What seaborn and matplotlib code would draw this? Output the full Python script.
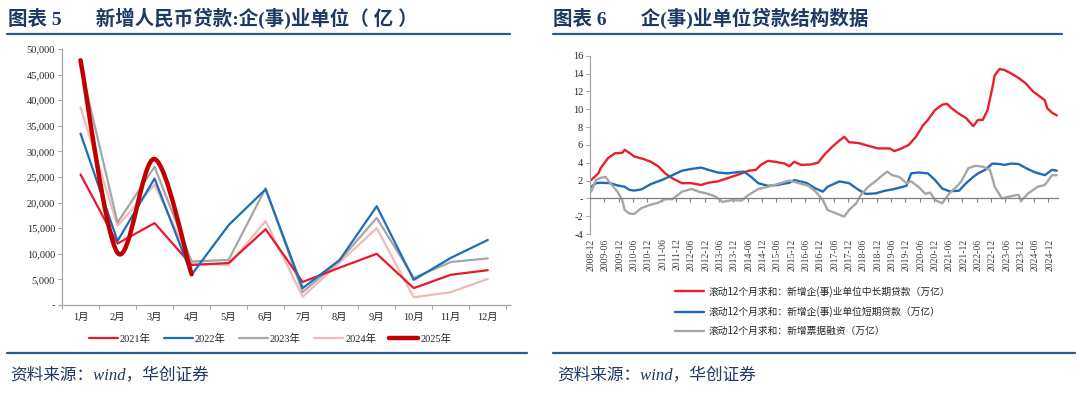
import numpy as np
import pandas as pd
import matplotlib
matplotlib.use("Agg")
import matplotlib.pyplot as plt
import seaborn as sns
from matplotlib.path import Path
from matplotlib.patches import PathPatch
from matplotlib.lines import Line2D
from matplotlib.ticker import FuncFormatter, FixedLocator

# ---------------- data: left chart (亿元) ----------------
months = ["1月", "2月", "3月", "4月", "5月", "6月", "7月", "8月", "9月", "10月", "11月", "12月"]
loans_2021 = [25500, 12000, 16000, 7800, 8200, 14800, 4500, 7300, 10000, 3300, 5900, 6800]
loans_2022 = [33500, 12500, 24700, 5900, 15600, 22600, 3300, 8800, 19300, 4900, 9200, 12700]
loans_2023 = [46800, 16100, 27000, 8500, 8800, 22800, 2500, 8700, 17000, 5300, 8400, 9100]
loans_2024 = [38600, 15500, 23500, 8200, 7800, 16400, 1600, 8300, 15000, 1500, 2500, 5100]
loans_2025 = [47800, 10200, 28500, 6000]
years = ["2021年", "2022年", "2023年", "2024年", "2025年"]

# ---------------- data: right chart (万亿), month index 0 = 2008-12 ----------------
xlabels_start = "2008-12"
red_m = [0, 3, 4, 7, 10, 13, 14, 16, 18, 22, 25, 28, 31, 34, 38, 42, 46, 49, 53, 57, 62, 66, 69, 71, 74,
         77, 81, 83, 85, 88, 92, 95, 98, 101, 104, 106, 108, 112, 116, 120, 125, 127, 130, 133, 136, 139,
         141, 144, 147, 149, 151, 154, 157, 159, 160, 162, 164, 166, 168, 169, 171, 173, 176, 179, 182,
         185, 188, 190, 191, 193, 195]
red_v = [2.06, 2.8, 3.4, 4.5, 5.06, 5.1, 5.45, 5.1, 4.7, 4.4, 4.1, 3.6, 2.8, 2.25, 1.7, 1.7, 1.5, 1.75, 1.9,
         2.25, 2.7, 3.1, 3.2, 3.75, 4.2, 4.1, 3.9, 3.6, 4.1, 3.75, 3.8, 4.0, 5.0, 5.8, 6.5, 6.9, 6.3, 6.2,
         5.9, 5.6, 5.6, 5.3, 5.6, 6.0, 6.9, 8.2, 8.8, 9.9, 10.5, 10.6, 10.1, 9.5, 9.0, 8.4, 8.1, 8.8, 8.8,
         9.9, 12.4, 13.8, 14.5, 14.4, 14.0, 13.5, 12.9, 12.0, 11.4, 11.0, 10.1, 9.6, 9.3]
blue_m = [0, 2, 4, 8, 11, 14, 16, 18, 21, 25, 30, 34, 38, 42, 46, 49, 53, 57, 60, 64, 67, 70, 74, 78, 83,
          85, 90, 94, 97, 99, 104, 108, 112, 115, 119, 123, 127, 132, 133, 134, 137, 141, 144, 147, 150,
          154, 157, 160, 162, 165, 168, 171, 173, 176, 179, 182, 186, 190, 193, 195]
blue_v = [1.3, 1.7, 1.75, 1.7, 1.45, 1.3, 0.95, 0.87, 1.0, 1.6, 2.1, 2.6, 3.1, 3.3, 3.45, 3.2, 2.9, 2.8,
          2.9, 3.0, 2.4, 1.7, 1.4, 1.5, 1.75, 2.05, 1.75, 1.1, 0.75, 1.3, 1.9, 1.7, 0.95, 0.5, 0.55, 0.85,
          1.05, 1.4, 2.1, 2.8, 2.9, 2.8, 2.05, 1.1, 0.8, 0.85, 1.7, 2.4, 2.8, 3.2, 3.9, 3.85, 3.75, 3.9,
          3.85, 3.4, 2.9, 2.6, 3.2, 3.1]
gray_m = [0, 2, 4, 6, 8, 11, 13, 14, 16, 18, 21, 25, 28, 31, 34, 38, 42, 45, 49, 52, 55, 59, 63, 66, 70,
          74, 78, 83, 87, 91, 94, 97, 99, 104, 106, 108, 111, 113, 116, 119, 122, 124, 126, 129, 132, 134,
          137, 140, 142, 144, 147, 150, 153, 155, 158, 161, 164, 167, 169, 172, 175, 179, 180, 183, 187,
          190, 193, 195]
gray_v = [0.75, 2.05, 2.3, 2.4, 1.7, 0.75, -0.2, -1.3, -1.7, -1.75, -1.1, -0.7, -0.5, -0.1, -0.1, 0.75,
          1.05, 0.75, 0.5, 0.2, -0.4, -0.2, -0.25, 0.4, 1.05, 1.3, 1.6, 2.0, 1.7, 1.4, 0.75, -0.2, -1.3,
          -1.85, -2.05, -1.3, -0.55, 0.4, 1.3, 1.9, 2.6, 3.0, 2.6, 2.4, 1.7, 1.9, 1.3, 0.5, 0.65, -0.2,
          -0.55, 0.55, 1.3, 1.9, 3.4, 3.65, 3.55, 3.2, 1.3, 0.0, 0.2, 0.4, -0.3, 0.55, 1.3, 1.5, 2.6, 2.6]
right_labels = ["滚动12个月求和：新增企(事)业单位中长期贷款（万亿）",
                "滚动12个月求和：新增企(事)业单位短期贷款（万亿）",
                "滚动12个月求和：新增票据融资（万亿）"]

# ---------------- style ----------------
sns.set_style("white")
SERIF = ["Liberation Serif", "Noto Sans CJK SC", "DejaVu Sans"]
SANS = ["Noto Sans CJK SC", "DejaVu Sans"]
plt.rcParams["font.family"] = SERIF
plt.rcParams["axes.unicode_minus"] = False

NAVY = "#1F3864"
RULE = "#2E5A8C"
AXC = "#A6A6A6"
TXT = "#262626"

c2021, c2022, c2023, c2024, c2025 = "#E8192C", "#1F6DB5", "#A6A6A6", "#F2B8BA", "#C00000"
cr, cb, cg = "#E8202A", "#1F6CB5", "#A6A6A6"

fig = plt.figure(figsize=(10.8, 3.97), dpi=100)

# ---------------- left chart ----------------
ax1 = fig.add_axes([62 / 1080, 1 - 305 / 397, 448 / 1080, 256 / 397])
xpos = np.arange(1, 13)
df = pd.DataFrame({
    "x": np.concatenate([xpos] * 4),
    "v": loans_2021 + loans_2022 + loans_2023 + loans_2024,
    "year": np.repeat(years[:4], 12),
})
pal = {years[0]: c2021, years[1]: c2022, years[2]: c2023, years[3]: c2024}
sns.lineplot(data=df, x="x", y="v", hue="year", palette=pal, hue_order=[years[3], years[2], years[0], years[1]],
             linewidth=1.6, legend=False, ax=ax1)

# 2025: smoothed line (Excel-style smoothing via Catmull-Rom Bezier through the data points)
pts = np.column_stack([xpos[:len(loans_2025)], loans_2025]).astype(float)
verts = [tuple(pts[0])]
codes = [Path.MOVETO]
n = len(pts)
for i in range(n - 1):
    p0 = pts[i - 1] if i > 0 else pts[i]
    p1, p2 = pts[i], pts[i + 1]
    p3 = pts[i + 2] if i + 2 < n else pts[i + 1]
    c1 = p1 + (p2 - p0) / 6.0
    c2 = p2 - (p3 - p1) / 6.0
    verts += [tuple(c1), tuple(c2), tuple(p2)]
    codes += [Path.CURVE4] * 3
ax1.add_patch(PathPatch(Path(verts, codes), fill=False, edgecolor=c2025, linewidth=3.2,
                        capstyle="round", joinstyle="round", zorder=5))

ax1.set_xlim(0.5, 12.6)
ax1.set_ylim(0, 50000)
ax1.yaxis.set_major_locator(FixedLocator(np.arange(0, 50001, 5000)))
ax1.yaxis.set_major_formatter(FuncFormatter(lambda v, p: "-" if v == 0 else f"{int(v):,}"))
ax1.set_xticks(xpos)
ax1.set_xticklabels(months)
ax1.xaxis.set_minor_locator(FixedLocator(np.arange(0.5, 13, 1.0)))
ax1.tick_params(axis="x", which="major", length=0, pad=6, labelsize=7.5, labelcolor=TXT)
ax1.tick_params(axis="x", which="minor", length=3, color=AXC, width=0.8, direction="out")
ax1.tick_params(axis="y", which="major", length=3, color=AXC, width=0.8, direction="out",
                labelsize=7.5, labelcolor=TXT, pad=2)
ax1.xaxis.set_tick_params(bottom=True, which="both")
ax1.yaxis.set_tick_params(left=True)
for s in ["top", "right"]:
    ax1.spines[s].set_visible(False)
for s in ["left", "bottom"]:
    ax1.spines[s].set_color(AXC)
    ax1.spines[s].set_linewidth(0.9)
ax1.set_xlabel("")
ax1.set_ylabel("")

handles = [Line2D([], [], color=c, lw=w) for c, w in
           [(c2021, 1.6), (c2022, 1.6), (c2023, 1.6), (c2024, 1.6), (c2025, 3.2)]]
fig.legend(handles, years, loc="center", bbox_to_anchor=(270 / 1080, 1 - 339 / 397), ncol=5,
           frameon=False, fontsize=7.5, handlelength=2.8, handletextpad=0.2, columnspacing=1.25,
           borderpad=0, borderaxespad=0, labelcolor=TXT)

# ---------------- right chart ----------------
ax2 = fig.add_axes([590 / 1080, 1 - 234 / 397, 468 / 1080, 178.3 / 397])
sns.lineplot(x=red_m, y=red_v, color=cr, linewidth=1.7, ax=ax2)
sns.lineplot(x=blue_m, y=blue_v, color=cb, linewidth=1.7, ax=ax2)
sns.lineplot(x=gray_m, y=gray_v, color=cg, linewidth=1.7, ax=ax2)

ax2.spines["bottom"].set_position(("data", 0))
ax2.set_xlim(-0.5, 195.5)
ax2.set_ylim(-4, 16)
ax2.yaxis.set_major_locator(FixedLocator(np.arange(-4, 17, 2)))
ax2.yaxis.set_major_formatter(FuncFormatter(lambda v, p: "-" if v == 0 else f"{int(v)}"))
start = pd.Period(xlabels_start, freq="M")
tick_m = np.arange(0, 193, 6)
ax2.set_xticks(tick_m)
ax2.set_xticklabels([(start + int(m)).strftime("%Y-%m") for m in tick_m], rotation=90)
ax2.xaxis.set_minor_locator(FixedLocator(np.arange(-0.5, 196, 6)))
ax2.tick_params(axis="x", which="major", length=0, pad=29, labelsize=7, labelcolor="#404040",
                labelrotation=90)
ax2.tick_params(axis="x", which="minor", length=3, color="#808080", width=0.8, direction="out")
ax2.tick_params(axis="y", which="major", length=3, color=AXC, width=0.8, direction="out",
                labelsize=7.5, labelcolor=TXT, pad=2)
ax2.xaxis.set_tick_params(bottom=True, which="both")
ax2.yaxis.set_tick_params(left=True)
for s in ["top", "right"]:
    ax2.spines[s].set_visible(False)
ax2.spines["left"].set_color(AXC)
ax2.spines["bottom"].set_color("#808080")
ax2.spines["left"].set_linewidth(0.9)
ax2.spines["bottom"].set_linewidth(0.9)
ax2.set_xlabel("")
ax2.set_ylabel("")

rh = [Line2D([], [], color=c, lw=1.7) for c in (cr, cb, cg)]
fig.legend(rh, right_labels, loc="upper left", bbox_to_anchor=(675 / 1080, 1 - 286 / 397),
           ncol=1, frameon=False, handlelength=3.0, handletextpad=0.5,
           labelspacing=0.95, borderpad=0, borderaxespad=0, labelcolor=TXT,
           prop={"family": SANS, "size": 7})

# ---------------- titles, rules, footers ----------------
fig.text(8 / 1080, 1 - 18 / 397, "图表 5       新增人民币贷款:企(事)业单位（ 亿 ）", fontsize=14, fontweight="bold",
         color=NAVY, va="center", ha="left", family=SERIF)
fig.text(553 / 1080, 1 - 18 / 397, "图表 6       企(事)业单位贷款结构数据", fontsize=14, fontweight="bold",
         color=NAVY, va="center", ha="left", family=SERIF)
for x0, x1 in [(7, 510), (553, 1062)]:
    fig.add_artist(Line2D([x0 / 1080, x1 / 1080], [1 - 33.5 / 397] * 2, transform=fig.transFigure,
                          color=RULE, lw=1.6))
for x0, x1 in [(7, 527), (553, 1075)]:
    fig.add_artist(Line2D([x0 / 1080, x1 / 1080], [1 - 353 / 397] * 2, transform=fig.transFigure,
                          color=RULE, lw=1.6))
for x0 in (10, 557):
    fig.text(x0 / 1080, 1 - 375 / 397, "资料来源：wind，华创证券", fontsize=12, style="italic",
             color=NAVY, va="center", ha="left", family=SERIF)

fig.savefig("out.png", dpi=100)
